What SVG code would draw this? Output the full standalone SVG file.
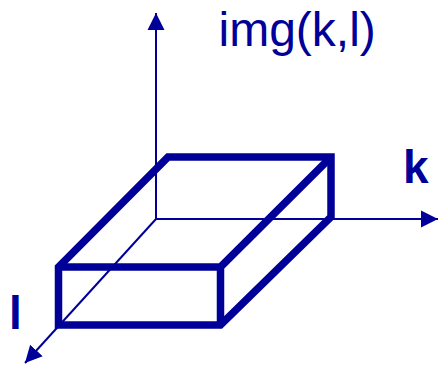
<svg xmlns="http://www.w3.org/2000/svg" width="439" height="368" viewBox="0 0 439 368">
<style>
.ax{stroke:#000099;stroke-width:2;fill:none}
.box{stroke:#000099;stroke-width:7.5;fill:none;stroke-linejoin:miter}
.t{fill:#000099;font-family:"Liberation Sans",Arial,sans-serif;font-size:46px}
.b{font-weight:bold}
</style>
<defs>
<marker id="ah" markerUnits="userSpaceOnUse" markerWidth="18" markerHeight="18" refX="17" refY="8.5" orient="auto" viewBox="0 0 18 17">
<path d="M0,0 L17,8.5 L0,17 Z" fill="#000099"/>
</marker>
</defs>
<g id="connectors">
<line class="ax" x1="156" y1="219" x2="156" y2="13" marker-end="url(#ah)"/>
<line class="ax" x1="155" y1="219" x2="438" y2="219" marker-end="url(#ah)"/>
<line class="ax" x1="156" y1="219" x2="25" y2="363" marker-end="url(#ah)"/>
</g>
<g id="box">
<path class="box" d="M58.5,325 L58.5,267 L168,157 L331,157 L331,217 L220.5,325 Z"/>
<path class="box" d="M58.5,267 H220.5 V325 M220.5,267 L331,157"/>
</g>
<g id="label-img"><text class="t" x="218.5" y="46" style="font-size:48px">img(k,l)</text></g>
<g id="label-k"><text class="t b" x="403" y="183">k</text></g>
<g id="label-l"><text class="t b" x="9" y="329">l</text></g>
</svg>
